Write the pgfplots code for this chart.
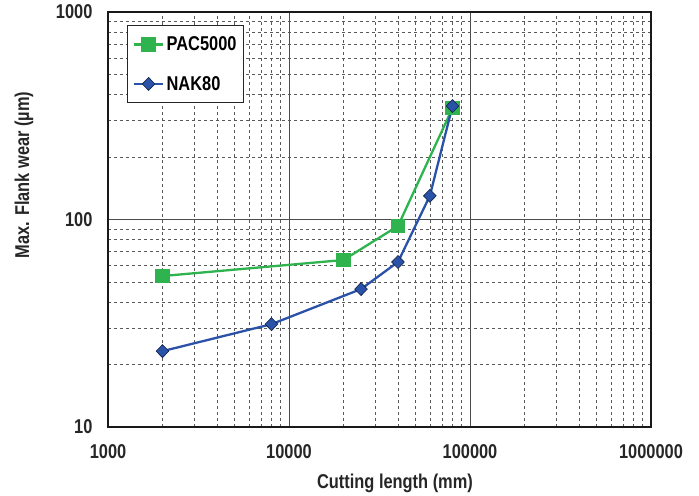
\documentclass[border=0pt]{standalone}
\usepackage{fontspec}
\setmainfont{Liberation Sans}[FakeStretch=0.82]
\usepackage{pgfplots}
\pgfplotsset{compat=1.18}
\definecolor{pacgreen}{HTML}{2EB34F}
\definecolor{nakblue}{HTML}{2A52A8}
\begin{document}
\begin{tikzpicture}
\begin{axis}[
  xmode=log, ymode=log,
  xmin=1000, xmax=1000000, ymin=10, ymax=1000,
  width=543pt, height=415pt, scale only axis,
  xtick={1000,10000,100000,1000000},
  xticklabels={1000,10000,100000,1000000},
  ytick={10,100,1000},
  yticklabels={10,100,1000},
  grid=both,
  major grid style={draw=black!70, line width=0.9pt},
  minor grid style={draw=black!65, dashed, line width=0.7pt},
  major tick length=0pt, minor tick length=0pt,
  axis line style={line width=1.3pt, black!90},
  ticklabel style={font=\fontsize{20}{24}\selectfont\bfseries, text=black!85},
  xticklabel style={yshift=-14pt},
  yticklabel style={xshift=-12pt},
  label style={font=\fontsize{20}{24}\selectfont\bfseries, text=black!85},
  xlabel={Cutting length (mm)},
  ylabel={Max. Flank wear (\textmu m)},
  xlabel style={at={(axis description cs:0.5285,-0.135)}, anchor=center},
  ylabel style={at={(axis description cs:-0.1547,0.607)}, anchor=center},
  legend style={at={(axis description cs:0.035,0.968)}, anchor=north west,
    draw=black!85, line width=0.9pt, fill=white,
    font=\fontsize{20}{24}\selectfont\bfseries,
    row sep=20pt, inner xsep=5pt, inner ysep=9pt},
  legend cell align=left,
  legend image code/.code={
    \draw[#1, line width=2.3pt] (0cm,0cm) -- (1.05cm,0cm);
    \draw[#1, only marks] plot coordinates {(0.525cm,0cm)};
  },
]
\addplot[color=pacgreen, line width=2.3pt, mark=square*, mark size=6pt, mark options={fill=pacgreen, draw=pacgreen}]
  coordinates {(2000,53.4) (20000,63.8) (40000,93) (80000,344)};
\addlegendentry{PAC5000}
\addplot[color=nakblue, line width=2.3pt, mark=diamond*, mark size=6.5pt, mark options={fill=nakblue, draw=black!60!nakblue, line width=0.6pt, xscale=1.3}]
  coordinates {(2000,23.2) (8000,31.3) (25000,46.2) (40000,62.4) (60000,130) (80000,352)};
\addlegendentry{NAK80}
\end{axis}
\path ([xshift=-108pt,yshift=-68pt]current axis.south west) rectangle ([xshift=48pt,yshift=12pt]current axis.north east);
\end{tikzpicture}
\end{document}
